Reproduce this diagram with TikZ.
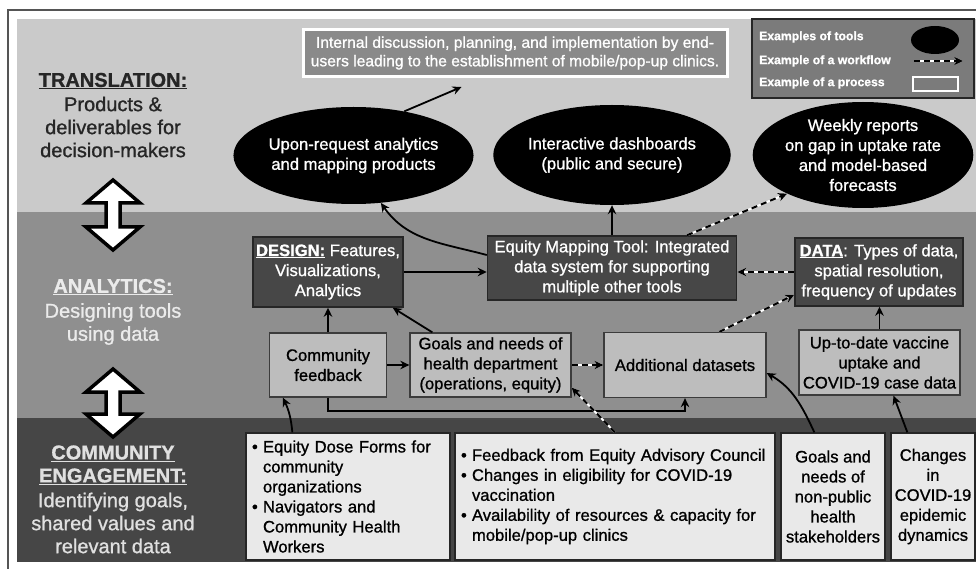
\documentclass[tikz,border=0pt]{standalone}
\usepackage{fontspec}
\setmainfont{Liberation Sans}[FakeBold=1.0]
\usetikzlibrary{shapes.geometric,arrows.meta,calc}
\definecolor{bandA}{HTML}{CACACA}
\definecolor{bandB}{HTML}{8F8F8F}
\definecolor{bandC}{HTML}{464646}
\definecolor{darkfill}{HTML}{474747}
\definecolor{darkline}{HTML}{262626}
\definecolor{midfill}{HTML}{BDBDBD}
\definecolor{lightfill}{HTML}{E9E9E9}
\definecolor{procfill}{HTML}{8A8A8A}
\definecolor{legfill}{HTML}{7B7B7B}
\definecolor{frameline}{HTML}{555555}
\newcommand\mybul{\makebox[11pt][l]{•}}
\newcommand\myind{\hspace*{11pt}}
\begin{document}
\begin{tikzpicture}[x=1pt,y=1pt,
  nodefont/.style={font=\fontsize{16.6}{20}\selectfont},
  darkbox/.style={rectangle, nodefont, fill=darkfill, draw=darkline, line width=1.5pt, text=white, align=center, inner sep=0pt},
  midbox/.style={rectangle, nodefont, fill=midfill, draw=darkline!90, line width=1.3pt, text=black, align=center, inner sep=0pt},
  lightbox/.style={rectangle, nodefont, fill=lightfill, draw=darkline, line width=1.3pt, text=black, align=center, inner sep=0pt},
  tool/.style={ellipse, nodefont, fill=black, text=white, align=center, inner sep=0pt},
  procbox/.style={rectangle, font=\fontsize{15.6}{18.5}\selectfont, fill=procfill, draw=white, line width=3pt, text=white, align=center, inner sep=0pt},
  lefthead/.style={font=\fontsize{20}{23}\selectfont\bfseries, align=center, inner sep=0pt},
  leftbody/.style={font=\fontsize{20}{23}\selectfont, align=center, inner sep=0pt},
  legtext/.style={font=\fontsize{12.2}{14}\selectfont\bfseries, text=white, inner sep=0pt, anchor=west},
  arr/.style={draw=black, line width=1.8pt, -{Stealth[length=9pt,width=8.5pt]}},
  wf/.style={draw=black, line width=2pt, dash pattern=on 6pt off 4pt, preaction={draw=white, solid, line width=2pt}, -{Stealth[length=9pt,width=8.5pt]}},
  dblarrow/.style={fill=white, draw=black, line width=3.5pt, line join=miter}
]
\useasboundingbox (0,0) rectangle (976,-569);
% frame and bands
\fill[white] (0,0) rectangle (976,-569);
\draw[frameline, line width=1.6pt] (8,-569) -- (8,-10) -- (976,-10);
\fill[bandA] (17,-19) rectangle (976,-212);
\fill[bandB] (17,-212) rectangle (976,-418);
\fill[bandC] (17,-418) rectangle (976,-562);

% left labels
\node[lefthead, text=black!85] (th) at (113,-81) {\underline{TRANSLATION:}};
\node[leftbody, text=black!85] (tb) at (113,-127) {Products \&\\deliverables for\\decision-makers};
\node[lefthead, text=white!92!black] (ah) at (113,-287) {\underline{ANALYTICS:}};
\node[leftbody, text=white!92!black] (ab) at (113,-324) {Designing tools\\using data};
\node[lefthead, text=white!88!black] (ch) at (113,-465) {\underline{COMMUNITY}\\\underline{ENGAGEMENT:}};
\node[leftbody, text=white!88!black] (cb) at (113,-523) {Identifying goals,\\shared values and\\relevant data};

% double arrows
\draw[dblarrow] (113,-180) -- (140,-203) -- (120,-203) -- (120,-227) -- (140,-227) -- (113,-250)
  -- (86,-227) -- (106,-227) -- (106,-203) -- (86,-203) -- cycle;
\draw[dblarrow] (113,-369) -- (140,-392) -- (120,-392) -- (120,-414) -- (140,-414) -- (113,-437)
  -- (86,-414) -- (106,-414) -- (106,-392) -- (86,-392) -- cycle;

% translation layer
\node[procbox, minimum width=424pt, minimum height=47pt] (proc) at (515,-53)
  {Internal discussion, planning, and implementation by end-\\users leading to the establishment of mobile/pop-up clinics.};
\node[tool, minimum width=193pt, minimum height=97pt] (e1) at (353.5,-155.5) {Upon-request analytics\\and mapping products};
\node[tool, minimum width=195pt, minimum height=100pt] (e2) at (612,-155) {Interactive dashboards\\(public and secure)};
\node[tool, minimum width=182pt, minimum height=106pt] (e3) at (863,-155) {Weekly reports\\on gap in uptake rate\\and model-based\\forecasts};

% legend
\node[rectangle, fill=legfill, draw=darkline, line width=2pt, minimum width=222pt, minimum height=79pt, inner sep=0pt] (leg) at (863,-58.5) {};
\node[legtext] (l1) at (759,-37) {Examples of tools};
\node[legtext] (l2) at (759,-61) {Example of a workflow};
\node[legtext] (l3) at (759,-83) {Example of a process};
\node[ellipse, fill=black, minimum width=48pt, minimum height=28pt, inner sep=0pt] (lt) at (935,-40) {};
\coordinate (wa) at (914,-61);
\coordinate (wb) at (963,-61);
\draw[wf] (wa) -- (wb);
\node[rectangle, draw=white, line width=2pt, minimum width=45pt, minimum height=14pt, inner sep=0pt] (lp) at (935.5,-84) {};

% analytics layer
\node[darkbox, minimum width=150pt, minimum height=70pt] (design) at (328,-272)
  {\underline{\textbf{DESIGN:}} Features,\\Visualizations,\\Analytics};
\node[darkbox, minimum width=249pt, minimum height=64pt] (emt) at (612,-268)
  {Equity Mapping Tool: Integrated\\data system for supporting\\multiple other tools};
\node[darkbox, minimum width=168pt, minimum height=68pt] (data) at (879,-272)
  {\underline{\textbf{DATA}}: Types of data,\\spatial resolution,\\frequency of updates};
\node[midbox, minimum width=117pt, minimum height=64pt] (cf) at (328,-365) {Community\\feedback};
\node[midbox, minimum width=161pt, minimum height=64pt] (goals) at (490.5,-365)
  {Goals and needs of\\health department\\(operations, equity)};
\node[midbox, minimum width=162pt, minimum height=65pt] (addl) at (685,-365) {Additional datasets};
\node[midbox, minimum width=161pt, minimum height=65pt] (uptd) at (879.5,-362.5)
  {Up-to-date vaccine\\uptake and\\COVID-19 case data};

% community layer
\node[lightbox, minimum width=204pt, minimum height=127pt, text width=192pt, align=left] (ba) at (348,-496.5)
  {\mybul Equity Dose Forms for\\\myind community\\\myind organizations\\\mybul Navigators and\\\myind Community Health\\\myind Workers};
\node[lightbox, minimum width=320pt, minimum height=127pt, text width=308pt, align=left] (bb) at (615,-496.5)
  {\mybul Feedback from Equity Advisory Council\\\mybul Changes in eligibility for COVID-19\\\myind vaccination\\\mybul Availability of resources \& capacity for\\\myind mobile/pop-up clinics};
\node[lightbox, minimum width=104pt, minimum height=127pt] (bc) at (833,-496.5)
  {Goals and\\needs of\\non-public\\health\\stakeholders};
\node[lightbox, minimum width=84pt, minimum height=127pt] (bd) at (933,-496.5)
  {Changes\\in\\COVID-19\\epidemic\\dynamics};

% connectors
\draw[arr] (e1.41) -- ($(proc.south west)+(160,-9)$);
\draw[arr] ($(emt.west)+(0,13)$) to[out=165,in=-55] (e1.-60);
\draw[arr] (emt.north) -- (e2.south);
\draw[wf] ($(emt.north)+(75,0)$) -- (e3.207);
\draw[arr] (design.east) -- (design.east -| emt.west);
\draw[arr] (cf.north) -- (design.south);
\draw[arr] ($(goals.north west)+(23,0)$) -- ($(design.south east)+(-11,0)$);
\draw[arr] (cf.east) -- (goals.west);
\draw[wf] (goals.east) -- (addl.west);
\draw[arr] (cf.south) -- ++(0,-13) -| (addl.south);
\draw[wf] ($(addl.north west)+(116,0)$) -- ($(data.south west)+(0,12)$);
\draw[wf] (data.west) -- (data.west -| emt.east);
\draw[arr] (uptd.north) -- (data.south -| uptd.north);
\draw[arr] ($(ba.north west)+(47,0)$) to[bend right=10] ($(cf.south west)+(14,0)$);
\draw[wf] (bb.north) -- ($(goals.south east)+(0,10)$);
\draw[arr] ($(bc.north west)+(34,0)$) to[out=115,in=-30] ($(addl.east)+(0,-8)$);
\draw[arr] ($(bd.north west)+(17,0)$) -- ($(uptd.south)+(14,0)$);
\end{tikzpicture}
\end{document}
